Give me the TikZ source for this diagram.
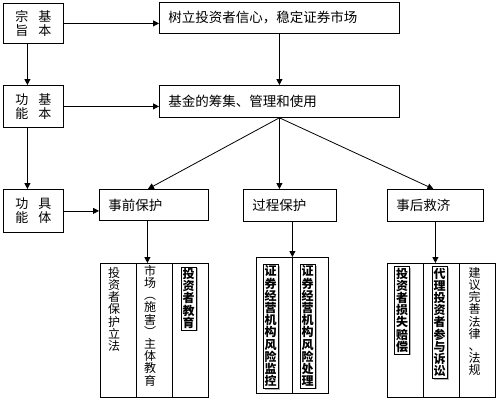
\documentclass[tikz,border=0pt]{standalone}
\usepackage{fontspec}
\setmainfont{Noto Sans CJK SC}
\usetikzlibrary{arrows.meta,shadows}
\begin{document}
\begin{tikzpicture}[x=1pt,y=-1pt,
  every node/.style={font=\fontsize{13.5}{14}\selectfont},
  line/.style={line width=0.8pt},
  arr/.style={line width=0.8pt,-{Triangle[length=6pt,width=6pt]}},
  tbox/.style={draw,line width=0.8pt,anchor=north west,inner xsep=9pt,inner ysep=0pt,align=left},
  sbox/.style={draw,line width=0.8pt,anchor=north west,inner sep=0pt,align=center,font=\fontsize{13}{14}\selectfont},
  pane/.style={draw,line width=0.8pt,anchor=north west,inner sep=0pt},
  vt/.style={anchor=north,align=center,inner sep=0pt,font=\fontsize{12}{12.2}\selectfont},
  vtb/.style={anchor=north,align=center,inner sep=1.5pt,draw,line width=0.5pt,
    font=\bfseries\fontsize{12}{12.2}\selectfont,fill=white,
    drop shadow={shadow xshift=1.5pt,shadow yshift=-1.5pt,opacity=1,fill=gray!60}}
]
\useasboundingbox (0,0) rectangle (498,400);
% left column boxes
\node[sbox,minimum width=60pt,minimum height=40pt] (A) at (3,3) {宗\hspace{10pt}基\\旨\hspace{10pt}本};
\node[sbox,minimum width=60pt,minimum height=42pt] (C) at (3,85) {功\hspace{10pt}基\\能\hspace{10pt}本};
\node[sbox,minimum width=60pt,minimum height=43pt] (E) at (3,189) {功\hspace{10pt}具\\能\hspace{10pt}体};
% right boxes
\node[tbox,minimum height=31pt,text width=222pt] (B) at (159,2) {树立投资者信心，稳定证券市场};
\node[tbox,minimum height=32pt,text width=222pt] (D) at (159,85) {基金的筹集、管理和使用};
\node[tbox,minimum height=31pt,text width=91pt] (F) at (99,189) {事前保护};
\node[tbox,minimum height=32pt,text width=75pt] (G) at (243,189) {过程保护};
\node[tbox,minimum height=32pt,text width=78pt] (H) at (387,189) {事后救济};
% lower panes
\node[pane,minimum width=108pt,minimum height=134pt] (L1) at (100,263) {};
\node[pane,minimum width=72pt,minimum height=136pt] (L2) at (256,257) {};
\node[pane,minimum width=108pt,minimum height=134pt] (L3) at (387,263) {};
\draw[line] (136,263) -- (136,397);
\draw[line] (172,263) -- (172,397);
\draw[line] (292,257) -- (292,393);
\draw[line] (423,263) -- (423,397);
\draw[line] (459,263) -- (459,397);
% vertical texts
\node[vt] (t11) at (114,267) {投\\资\\者\\保\\护\\立\\法};
\node[vt] (t12) at (150,265) {市\\场\\︵\\施\\害\\︶\\主\\体\\教\\育};
\node[vtb] (t13) at (188.5,266.5) {投\\资\\者\\教\\育};
\node[vtb] (t21) at (270.5,264) {证\\券\\经\\营\\机\\构\\风\\险\\监\\控};
\node[vtb] (t22) at (307.5,264) {证\\券\\经\\营\\机\\构\\风\\险\\处\\理};
\node[vtb] (t31) at (402,266) {投\\资\\者\\损\\失\\赔\\偿};
\node[vtb] (t32) at (439.5,266) {代\\理\\投\\资\\者\\参\\与\\诉\\讼};
\node[vt] (t33) at (474.5,267) {建\\议\\完\\善\\法\\律\\、\\法\\规};
% connectors
\draw[arr] (A.east) -- (A.east -| B.west);
\draw[arr] (C.east) -- (C.east -| D.west);
\draw[arr] (E.east) -- (E.east -| F.west);
\draw[arr] (B.south) -- (D.north);
\draw[arr] ([xshift=-6pt]A.south) -- ([xshift=-6pt]A.south |- C.north);
\draw[arr] ([xshift=-6pt]C.south) -- ([xshift=-6pt]C.south |- E.north);
\draw[arr] (D.south) -- ([xshift=-6pt]F.north);
\draw[arr] (D.south) -- (D.south |- G.north);
\draw[arr] (D.south) -- ([xshift=-2pt]H.north);
\draw[arr] ([xshift=-6.5pt]F.south) -- ([xshift=-6.5pt]F.south |- L1.north);
\draw[arr] ([xshift=2.5pt]G.south) -- ([xshift=2.5pt]G.south |- L2.north);
\draw[arr] (H.south) -- (H.south |- L3.north);
\end{tikzpicture}
\end{document}
